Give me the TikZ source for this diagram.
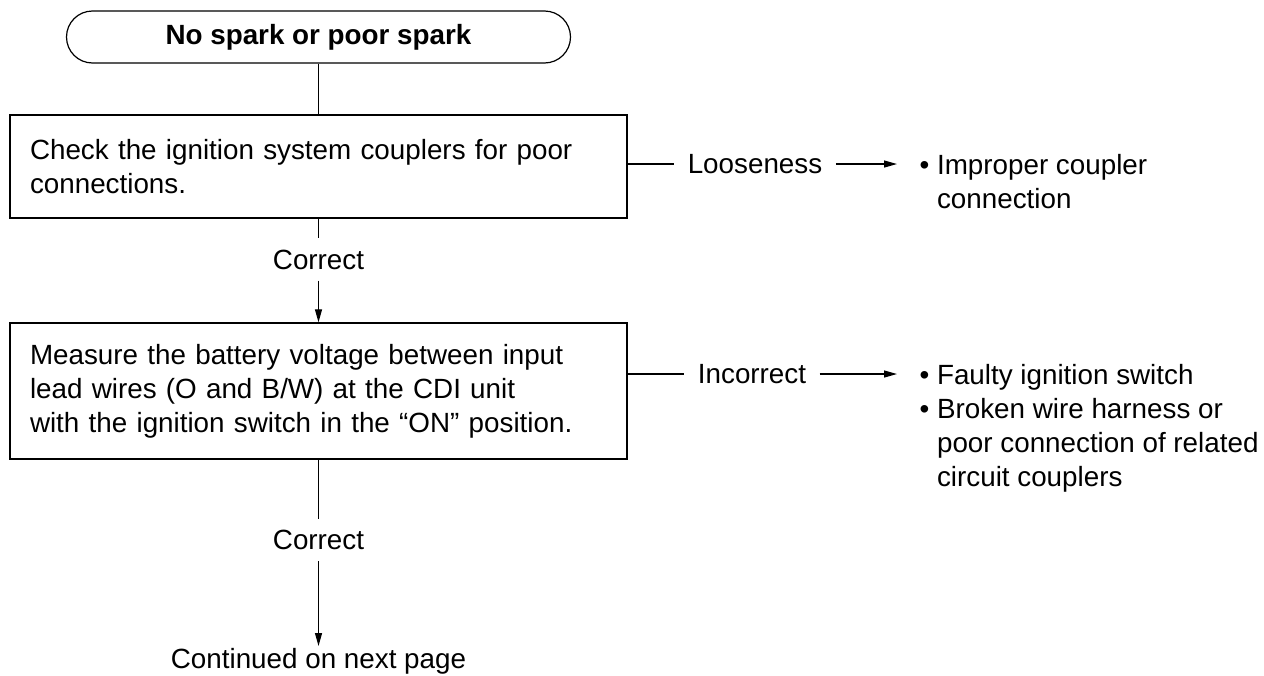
\documentclass[tikz,border=0pt]{standalone}
\usepackage{fontspec}
\setmainfont{Liberation Sans}
\usetikzlibrary{arrows.meta,positioning}

\begin{document}
\begin{tikzpicture}[x=1pt,y=1pt,
    every node/.style={font=\fontsize{27.8pt}{34pt}\selectfont},
    term/.style={draw, line width=1.2pt, rounded corners=26pt, minimum width=504pt, minimum height=52pt, font=\fontsize{27.8pt}{34pt}\selectfont\bfseries},
    stepbox/.style={draw, line width=1.3pt, minimum width=617pt, text width=577pt, inner xsep=20pt, align=left},
    lbl/.style={inner xsep=13pt, inner ysep=0pt, minimum height=41pt},
    res/.style={anchor=north west, inner xsep=22pt, inner ysep=0pt, align=left},
    arr/.style={-{Triangle[length=13pt,width=7pt]}},
    line width=1.2pt
]
\useasboundingbox (0,0) rectangle (1264,-675);

% main column
\node[term] (start) at (318.5,-37) {No spark or poor spark};
\node[stepbox, minimum height=103pt] (chk) at (318.5,-166.5) {Check the ignition system couplers for poor\\connections.};
\node[lbl] (ok1) at (318.5,-259.5) {Correct};
\node[stepbox, minimum height=136pt] (meas) at (318.5,-391) {Measure the battery voltage between input\\lead wires (O and B/W) at the CDI unit\\with the ignition switch in the “ON” position.};
\node[lbl] (ok2) at (318.5,-540) {Correct};
\node[anchor=north, inner sep=2pt] (cont) at (318.5,-646) {Continued on next page};

% side branches
\node[lbl] (loose) at (755,-164) {Looseness};
\node[res] (fix1) at (897,-154) {\textbullet\ Improper coupler\\\hphantom{\textbullet\ }connection};
\node[lbl] (bad) at (752,-374) {Incorrect};
\node[res] (fix2) at (897,-364) {\textbullet\ Faulty ignition switch\\\textbullet\ Broken wire harness or\\\hphantom{\textbullet\ }poor connection of related\\\hphantom{\textbullet\ }circuit couplers};

\draw (start) -- (chk);
\draw (chk) -- (ok1);
\draw[arr] (ok1) -- (meas);
\draw (meas) -- (ok2);
\draw[arr] (ok2) -- (cont);
\draw (chk.east |- loose) -- (loose);
\draw[arr] (loose) -- (loose -| fix1.west);
\draw (meas.east |- bad) -- (bad);
\draw[arr] (bad) -- (bad -| fix2.west);
\end{tikzpicture}
\end{document}
